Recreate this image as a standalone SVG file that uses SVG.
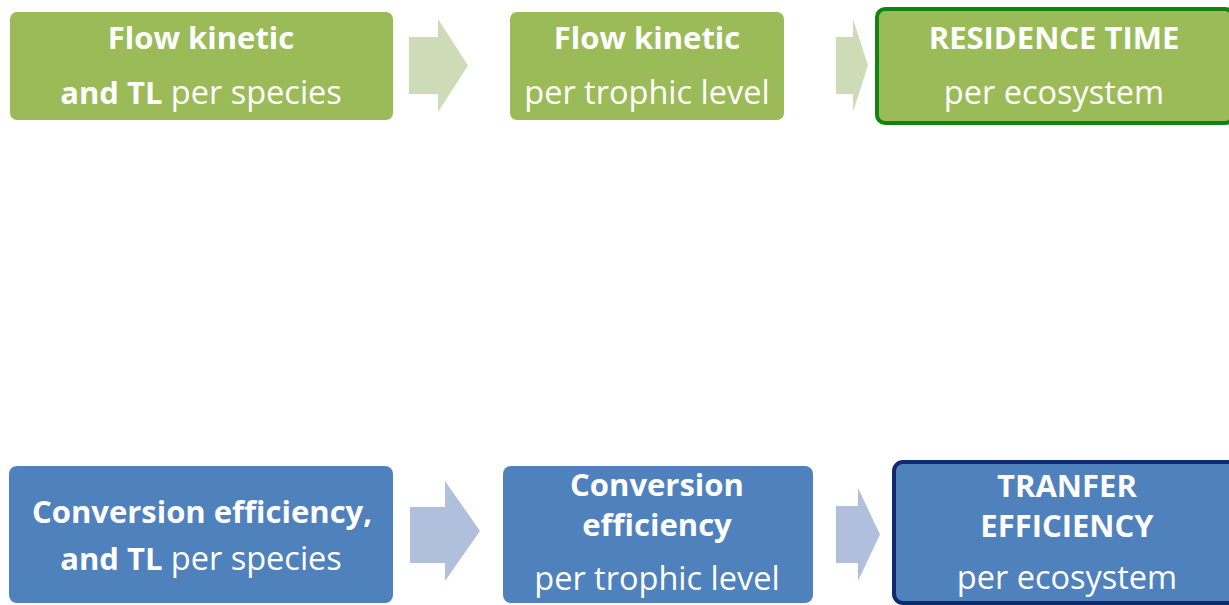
<svg xmlns="http://www.w3.org/2000/svg" width="1229" height="605" viewBox="0 0 1229 605">
<style>
.t{font-family:"Open Sans","Liberation Sans",sans-serif;font-size:32.5px;fill:#fff;text-anchor:middle}
.b{font-weight:bold;font-size:31px}
.g{fill:#9BBB59}
.bl{fill:#4F81BD}
.ga{fill:#CDDBB7}
.ba{fill:#B0C0DC}
</style>
<rect width="1229" height="605" fill="#fff"/>
<g id="connectors">
<polygon class="ga" points="409,37 438,37 438,19 468,65.5 438,112 438,94 409,94"/>
<polygon class="ga" points="836,37 853,37 853,19 868,65.5 853,112 853,94 836,94"/>
<polygon class="ba" points="410,507 445,507 445,481 480,531 445,581 445,563 410,563"/>
<polygon class="ba" points="836,506 858,506 858,488 880,534.5 858,581 858,563 836,563"/>
</g>
<g id="n1">
<rect class="g" x="10" y="12" width="383" height="108" rx="7"/>
<text class="t b" x="201" y="49">Flow kinetic</text>
<text class="t" x="201" y="104"><tspan class="b">and TL</tspan> per species</text>
</g>
<g id="n2">
<rect class="g" x="510" y="12" width="274" height="108" rx="7"/>
<text class="t b" x="647" y="49">Flow kinetic</text>
<text class="t" x="647" y="104">per trophic level</text>
</g>
<g id="n3">
<rect class="g" x="877" y="9" width="356" height="114" rx="8" stroke="#118311" stroke-width="4"/>
<text class="t b" x="1054" y="49">RESIDENCE TIME</text>
<text class="t" x="1054" y="104">per ecosystem</text>
</g>
<g id="n4">
<rect class="bl" x="9" y="466" width="384" height="137" rx="8"/>
<text class="t b" x="202" y="523">Conversion efficiency,</text>
<text class="t" x="201" y="570"><tspan class="b">and TL</tspan> per species</text>
</g>
<g id="n5">
<rect class="bl" x="503" y="466" width="310" height="137" rx="8"/>
<text class="t b" x="657" y="496">Conversion</text>
<text class="t b" x="657" y="536">efficiency</text>
<text class="t" x="657" y="590">per trophic level</text>
</g>
<g id="n6">
<rect class="bl" x="894" y="462" width="346" height="141" rx="9" stroke="#0E2A6B" stroke-width="4"/>
<text class="t b" x="1067" y="497">TRANFER</text>
<text class="t b" x="1067" y="537">EFFICIENCY</text>
<text class="t" x="1067" y="589">per ecosystem</text>
</g>
</svg>
